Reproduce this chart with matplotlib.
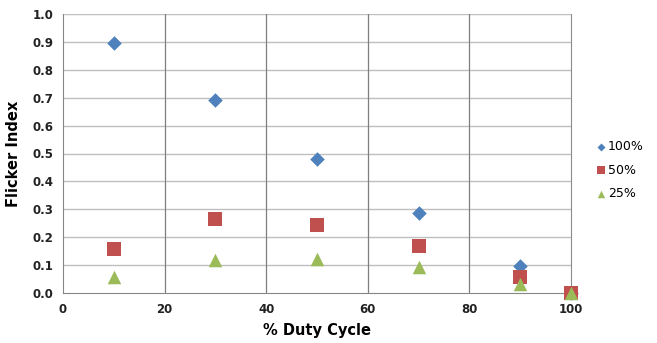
import matplotlib
matplotlib.use("Agg")
import matplotlib.pyplot as plt

duty_cycle = [10, 30, 50, 70, 90, 100]
flicker_100 = [0.897, 0.690, 0.480, 0.287, 0.096, 0.0]
flicker_50 = [0.156, 0.266, 0.245, 0.170, 0.058, 0.0]
flicker_25 = [0.058, 0.119, 0.123, 0.093, 0.033, 0.0]
series_labels = ["100%", "50%", "25%"]

plt.rcParams["font.family"] = ["DejaVu Sans"]

fig = plt.figure(figsize=(6.57, 3.43), dpi=100)
ax = fig.add_axes([63 / 657, 1 - 293 / 343, (571 - 63) / 657, (293 - 14) / 343])

ax.scatter(duty_cycle, flicker_100, marker="D", s=55, color="#4F81BD", label=series_labels[0],
           zorder=3, linewidths=0, clip_on=False)
ax.scatter(duty_cycle, flicker_50, marker="s", s=100, color="#C0504D", label=series_labels[1],
           zorder=3, linewidths=0, clip_on=False)
ax.scatter(duty_cycle, flicker_25, marker="^", s=95, color="#9BBB59", label=series_labels[2],
           zorder=4, linewidths=0, clip_on=False)

ax.set_xlim(0, 100)
ax.set_ylim(0, 1.0)
ax.set_xticks([0, 20, 40, 60, 80, 100])
ax.set_yticks([i / 10 for i in range(11)])
ax.set_yticklabels([f"{i / 10:.1f}" for i in range(11)])

# horizontal light gridlines
for i in range(1, 11):
    ax.axhline(i / 10, color="#BFBFBF", lw=1, zorder=1)
# vertical darker gridlines
for x in [20, 40, 60, 80]:
    ax.axvline(x, color="#7F7F7F", lw=0.9, zorder=1)

ax.spines["top"].set_visible(False)
ax.spines["right"].set_color("#8C8C8C")
ax.spines["left"].set_color("#868686")
ax.spines["bottom"].set_color("#868686")

ax.tick_params(length=0, pad=7, labelsize=8.5)
for lbl in ax.get_xticklabels() + ax.get_yticklabels():
    lbl.set_fontweight("bold")
    lbl.set_color("#222222")

ax.set_xlabel("% Duty Cycle", fontsize=10.5, fontweight="bold", labelpad=5)
ax.set_ylabel("Flicker Index", fontsize=10.5, fontweight="bold", labelpad=8)

leg = ax.legend(loc="center left", bbox_to_anchor=(1.037, 0.44), frameon=False,
                fontsize=9, handletextpad=0.05, markerscale=0.55,
                labelspacing=0.85, handlelength=1.0, borderaxespad=0)

fig.savefig("out.png", dpi=100)
